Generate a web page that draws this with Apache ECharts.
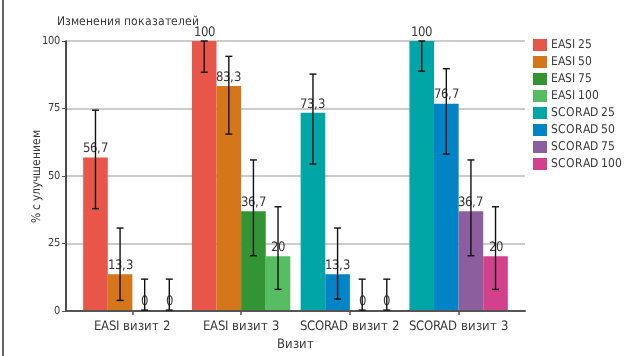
<!DOCTYPE html>
<html><head><meta charset="utf-8">
<script src="https://cdn.jsdelivr.net/npm/echarts@6/dist/echarts.min.js"></script>
<style>
html,body{margin:0;padding:0;background:#fff}#c{width:635px;height:356px}
@font-face{font-family:'NarrowF';src:local('Liberation Sans Narrow'),local('LiberationSansNarrow'),local('LiberationSansNarrow-Regular');}
@font-face{font-family:'CondF';src:local('DejaVu Sans Condensed'),local('DejaVuSansCondensed');}
</style>
</head><body><div id="c"></div>
<script>
// ---- data ----
const categories = ['EASI визит 2', 'EASI визит 3', 'SCORAD визит 2', 'SCORAD визит 3'];
const seriesNames = ['EASI 25', 'EASI 50', 'EASI 75', 'EASI 100', 'SCORAD 25', 'SCORAD 50', 'SCORAD 75', 'SCORAD 100'];
const yTicks = [0, 25, 50, 75, 100];

const easi25   = [56.7, 100, null, null];
const easi50   = [13.3, 83.3, null, null];
const easi75   = [0, 36.7, null, null];
const easi100  = [0, 20, null, null];
const scorad25 = [null, null, 73.3, 100];
const scorad50 = [null, null, 13.3, 76.7];
const scorad75 = [null, null, 0, 36.7];
const scorad100= [null, null, 0, 20];

const easi25Err   = [[37.7, 74.3], [88.4, 100], null, null];
const easi50Err   = [[3.6, 30.5], [65.4, 94.3], null, null];
const easi75Err   = [[0, 11.5], [20.2, 55.8], null, null];
const easi100Err  = [[0, 11.5], [7.7, 38.4], null, null];
const scorad25Err = [null, null, [54.3, 87.7], [88.8, 100]];
const scorad50Err = [null, null, [4.1, 30.5], [58.0, 89.7]];
const scorad75Err = [null, null, [0, 11.5], [20.2, 55.8]];
const scorad100Err= [null, null, [0, 11.5], [7.7, 38.4]];

// ---- styling ----
const FONT = "NarrowF, CondF, Roboto, sans-serif";
const TXT = '#3a3a3a';
const colors = ['#E8564A', '#D5761B', '#339433', '#57BD63', '#00A6A6', '#0084C6', '#8C5E9E', '#D3418D'];
const BW = 24.6;
const values = [easi25, easi50, easi75, easi100, scorad25, scorad50, scorad75, scorad100];
const errs = [easi25Err, easi50Err, easi75Err, easi100Err, scorad25Err, scorad50Err, scorad75Err, scorad100Err];
const stacks = ['p25', 'p50', 'p75', 'p100'];

function render() {
  const barSeries = seriesNames.map((name, s) => ({
    name, type: 'bar', xAxisIndex: 1, yAxisIndex: 1,
    stack: stacks[s % 4], barWidth: BW, barGap: '0%',
    itemStyle: { color: colors[s] },
    data: values[s],
    label: {
      show: true, position: 'top', distance: 2,
      fontFamily: FONT, fontSize: 12.5, color: TXT,
      formatter: p => (p.value == null ? '' : String(p.value).replace('.', ','))
    }
  }));

  const errData = [];
  errs.forEach((arr, s) => arr.forEach((e, i) => { if (e) errData.push([i, e[0], e[1], s % 4]); }));

  const errSeries = {
    type: 'custom', xAxisIndex: 1, yAxisIndex: 1, z: 10,
    encode: { x: 0, y: [1, 2] },
    data: errData,
    renderItem(params, api) {
      const i = api.value(0), lo = api.value(1), hi = api.value(2), k = api.value(3);
      const pt = api.coord([i, hi]), pb = api.coord([i, lo]);
      const x = pt[0] + (k - 1.5) * BW;
      const cap = 3.5, st = { stroke: '#111', lineWidth: 1.4 };
      return { type: 'group', children: [
        { type: 'line', shape: { x1: x, y1: pt[1], x2: x, y2: pb[1] }, style: st },
        { type: 'line', shape: { x1: x - cap, y1: pt[1], x2: x + cap, y2: pt[1] }, style: st },
        { type: 'line', shape: { x1: x - cap, y1: pb[1], x2: x + cap, y2: pb[1] }, style: st }
      ]};
    }
  };

  const chart = echarts.init(document.getElementById('c'), null, { renderer: 'canvas' });
  chart.setOption({
    animation: false,
    textStyle: { fontFamily: FONT },
    title: { text: 'Изменения показателей', left: 52, top: 11, textStyle: { fontFamily: FONT, fontSize: 12, fontWeight: 'normal', color: TXT } },
    legend: {
      orient: 'vertical', left: 533, top: 39, padding: 0,
      itemWidth: 14, itemHeight: 12, itemGap: 5, icon: 'rect',
      data: seriesNames,
      textStyle: { fontFamily: FONT, fontSize: 12, color: TXT, padding: [0, 0, 0, -1] }
    },
    grid: [
      { left: 66, right: 110, top: 41, bottom: 45 },
      { left: 78, right: 122, top: 41, bottom: 45 }
    ],
    xAxis: [
      { gridIndex: 0, type: 'value', min: 0, max: 1, axisLine: { show: true, lineStyle: { color: '#555', width: 2 } },
        axisTick: { show: false }, axisLabel: { show: false }, splitLine: { show: false } },
      { gridIndex: 1, type: 'category', data: categories,
        axisLine: { show: false },
        axisTick: { show: true, alignWithLabel: true, interval: 0, length: 5, lineStyle: { color: '#555', width: 1.5 } },
        axisLabel: { fontFamily: FONT, fontSize: 12.5, color: TXT, margin: 10, interval: 0 },
        name: 'Визит', nameLocation: 'middle', nameGap: 25,
        nameTextStyle: { fontFamily: FONT, fontSize: 12.5, color: TXT } }
    ],
    yAxis: [
      { gridIndex: 0, type: 'value', min: yTicks[0], max: yTicks[yTicks.length - 1], interval: 25,
        axisLine: { show: true, lineStyle: { color: '#111', width: 1.5 } },
        axisTick: { show: true, length: 4, lineStyle: { color: '#555' } },
        axisLabel: { fontFamily: FONT, fontSize: 11, color: TXT, margin: 6 },
        splitLine: { show: true, lineStyle: { color: '#BBBBBB', width: 1.5 } },
        name: '% с улучшением', nameLocation: 'middle', nameGap: 29, nameRotate: 90, nameMoveOverlap: false,
        nameTextStyle: { fontFamily: FONT, fontSize: 12, color: TXT, verticalAlign: 'middle' } },
      { gridIndex: 1, type: 'value', min: 0, max: 100, show: false, splitLine: { show: false } }
    ],
    graphic: [
      { type: 'line', shape: { x1: 3, y1: 0, x2: 3, y2: 356 }, style: { stroke: '#333', lineWidth: 1.5 } }
    ],
    series: [...barSeries, errSeries]
  });
}

let done = false;
function go() { if (!done) { done = true; render(); } }
if (document.fonts && document.fonts.load) {
  Promise.all([document.fonts.load("13px NarrowF"), document.fonts.load("13px CondF")]).then(go, go);
  setTimeout(go, 1500);
} else { go(); }
</script>
</body></html>
